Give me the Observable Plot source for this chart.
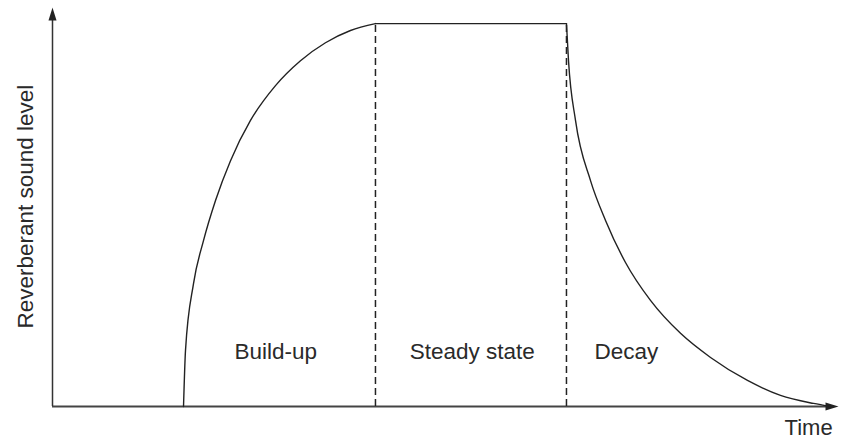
<!DOCTYPE html>
<html>
<head>
<meta charset="utf-8">
<script src="https://cdn.jsdelivr.net/npm/d3@7"></script>
<script src="https://cdn.jsdelivr.net/npm/@observablehq/plot@0.6"></script>
<style>
  html, body { margin: 0; padding: 0; background: #fff; }
  #chart svg { display: block; }
</style>
</head>
<body>
<div id="chart"></div>
<script>
// Time (arbitrary units 0..100) and reverberant level (0..100 = steady state)
const buildTime  = [16.67, 16.92, 17.94, 19.21, 20.74, 22.65, 25.19, 28.37, 31.55, 34.73, 37.91, 41.09];
const buildLevel = [0, 14.6, 32.1, 43.3, 53.8, 64.2, 74.7, 83.8, 90.3, 95.0, 98.2, 100];
const steadyTime  = [41.09, 65.39];
const steadyLevel = [100, 100];
const decayTime  = [65.39, 65.65, 66.54, 68.45, 70.36, 72.90, 76.08, 79.90, 83.72, 88.42, 92.62, 96.82, 98.98];
const decayLevel = [100, 90.3, 74.7, 59.0, 48.6, 37.6, 27.7, 19.1, 12.8, 6.8, 2.9, 0.8, 0];
const phaseBounds = [41.09, 65.39];
const phaseNames = ["Build-up", "Steady state", "Decay"];
const phaseNameTime = [28.4, 53.4, 73.0];
const phaseNameLevel = 14.4;
const xLabel = "Time";
const yLabel = "Reverberant sound level";
const xMax = 100;
const yMax = 104.2;

const zip = (t, l) => t.map((v, i) => ({t: v, l: l[i]}));
const build = zip(buildTime, buildLevel);
const steady = zip(steadyTime, steadyLevel);
const decay = zip(decayTime, decayLevel);
const phases = phaseNames.map((n, i) => ({name: n, t: phaseNameTime[i], l: phaseNameLevel}));

const headUp = {
  draw(ctx) {
    ctx.moveTo(0, 0);
    ctx.lineTo(4, 13);
    ctx.lineTo(-4, 13);
    ctx.closePath();
  }
};

const font = "'Liberation Sans', Arial, Helvetica, sans-serif";

const chart = Plot.plot({
  width: 841,
  height: 441,
  marginLeft: 52,
  marginRight: 3,
  marginTop: 7,
  marginBottom: 35,
  style: {fontFamily: font, background: "#fff"},
  x: {domain: [0, xMax], axis: null},
  y: {domain: [0, yMax], axis: null},
  marks: [
    // axes
    Plot.ruleY([0], {x1: 0, x2: xMax - 1, stroke: "#444", strokeWidth: 1.8}),
    Plot.ruleX([0], {y1: 0, y2: yMax - 2, stroke: "#333", strokeWidth: 1.5}),
    Plot.dot([{t: 0, l: yMax}], {x: "t", y: "l", symbol: headUp, fill: "#222", stroke: "none"}),
    Plot.dot([{t: xMax, l: 0}], {x: "t", y: "l", symbol: headUp, rotate: 90, fill: "#222", stroke: "none"}),
    // phase boundaries
    Plot.ruleX(phaseBounds, {y1: 0, y2: 100, stroke: "#222", strokeWidth: 1.5, strokeDasharray: "7,4"}),
    // curve
    Plot.line(build, {x: "t", y: "l", curve: "monotone-x", stroke: "#222", strokeWidth: 1.4}),
    Plot.line(steady, {x: "t", y: "l", stroke: "#222", strokeWidth: 1.4}),
    Plot.line(decay, {x: "t", y: "l", curve: "monotone-x", stroke: "#222", strokeWidth: 1.4}),
    // labels
    Plot.text(phases, {x: "t", y: "l", text: "name", fontSize: 22.5, fill: "#2a2a2a"}),
    Plot.text([xLabel], {x: 96.2, y: -5.7, text: d => d, fontSize: 22, fill: "#2a2a2a"}),
    Plot.text([yLabel], {x: -3.44, y: 52.2, text: d => d, rotate: -90, fontSize: 22.5, fill: "#2a2a2a"})
  ]
});
document.getElementById("chart").appendChild(chart);
</script>
</body>
</html>
